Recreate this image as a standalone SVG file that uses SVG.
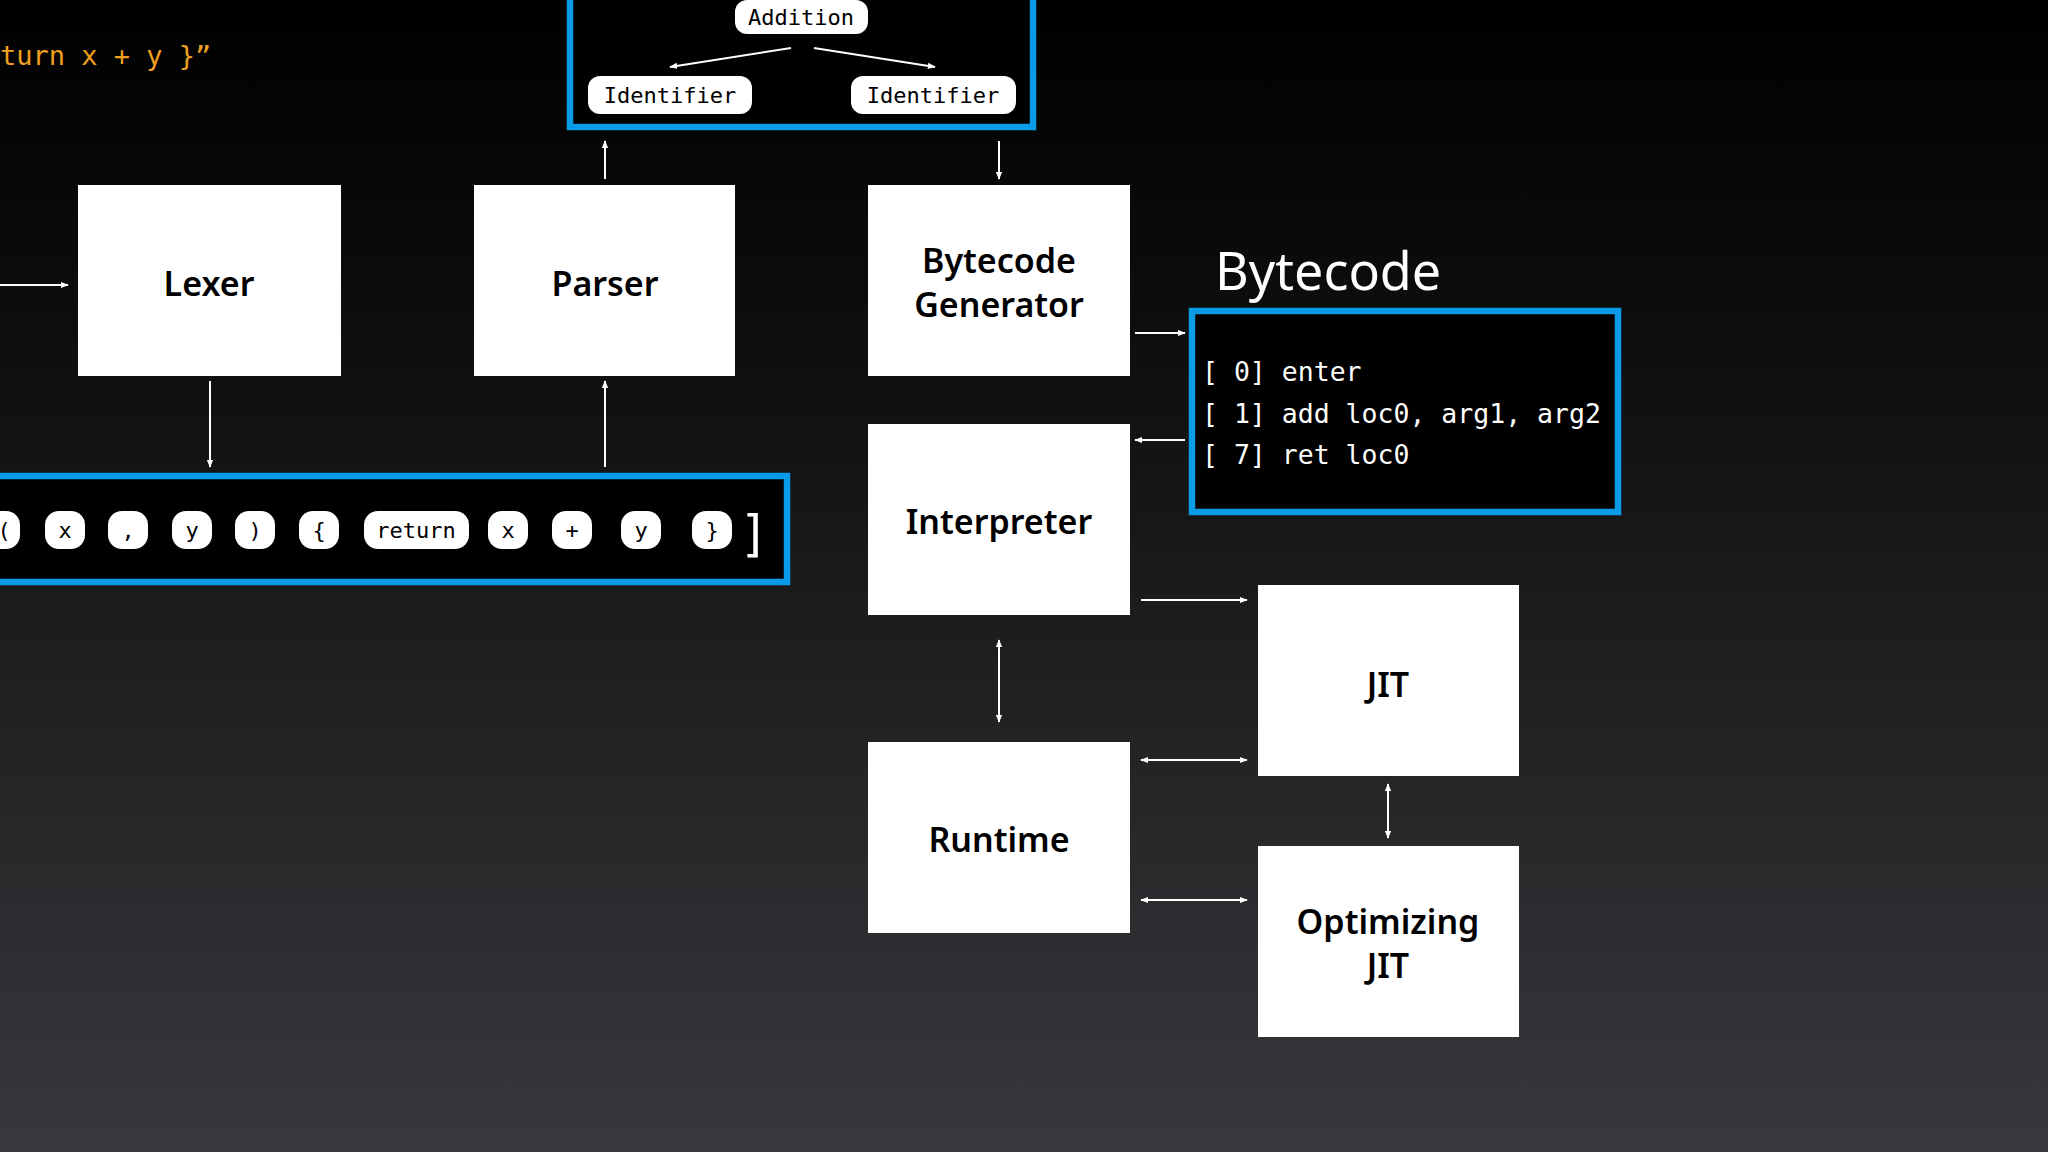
<svg xmlns="http://www.w3.org/2000/svg" width="2048" height="1152" viewBox="0 0 2048 1152">
<defs>
<linearGradient id="bg" x1="0" y1="0" x2="0" y2="1"><stop offset="0" stop-color="#000"/><stop offset="0.35" stop-color="#111"/><stop offset="1" stop-color="#39383d"/></linearGradient>
<marker id="ah" viewBox="0 0 10 10" refX="9" refY="5" markerWidth="8" markerHeight="8" markerUnits="userSpaceOnUse" orient="auto-start-reverse"><path d="M0,1 L10,5 L0,9 Z" fill="#fff"/></marker>
<style>
.box{fill:#fff}
.lbl{font-family:"Noto Sans","Liberation Sans",sans-serif;font-weight:600;font-size:34px;fill:#000;text-anchor:middle}
.frame{fill:#000;stroke:#0a9be8;stroke-width:6.5}
.pill{fill:#fff}
.tok{font-family:"DejaVu Sans Mono",monospace;font-size:22px;fill:#000;text-anchor:middle}
.code{font-family:"DejaVu Sans Mono",monospace;font-size:26.5px;fill:#fff}
.ln{stroke:#fff;stroke-width:2;fill:none}
</style>
</defs>
<rect width="2048" height="1152" fill="url(#bg)"/>
<text x="0" y="65" font-family="DejaVu Sans Mono,monospace" font-size="27" fill="#f0a020">turn x + y }”</text>
<g id="ast">
<rect class="frame" x="570" y="-10" width="463" height="137"/>
<rect class="pill" x="735" y="0" width="133" height="34" rx="12"/><text class="tok" x="801" y="25">Addition</text>
<rect class="pill" x="588" y="76" width="164" height="38" rx="12"/><text class="tok" x="670" y="103">Identifier</text>
<rect class="pill" x="851" y="76" width="165" height="38" rx="12"/><text class="tok" x="933" y="103">Identifier</text>
</g>
<g id="tokens">
<rect class="frame" x="-10" y="476" width="797" height="106"/>
<g class="pill">
<rect x="-20" y="511" width="40" height="38" rx="14"/><rect x="45" y="511" width="40" height="38" rx="14"/><rect x="108" y="511" width="40" height="38" rx="14"/><rect x="172" y="511" width="40" height="38" rx="14"/><rect x="235" y="511" width="40" height="38" rx="14"/><rect x="299" y="511" width="40" height="38" rx="14"/><rect x="364" y="511" width="105" height="38" rx="14"/><rect x="488" y="511" width="40" height="38" rx="14"/><rect x="552" y="511" width="40" height="38" rx="14"/><rect x="621" y="511" width="40" height="38" rx="14"/><rect x="692" y="511" width="40" height="38" rx="14"/>
</g>
<text class="tok" x="4" y="538">(</text><text class="tok" x="65" y="538">x</text><text class="tok" x="128" y="538">,</text><text class="tok" x="192" y="538">y</text><text class="tok" x="255" y="538">)</text><text class="tok" x="319" y="538">{</text><text class="tok" x="416" y="538">return</text><text class="tok" x="508" y="538">x</text><text class="tok" x="572" y="538">+</text><text class="tok" x="641" y="538">y</text><text class="tok" x="712" y="538">}</text>
<text x="754" y="551" font-family="DejaVu Sans Mono,monospace" font-size="50" fill="#fff" text-anchor="middle">]</text>
</g>
<g id="lexer"><rect class="box" x="78" y="185" width="263" height="191"/><text class="lbl" x="209" y="296">Lexer</text></g>
<g id="parser"><rect class="box" x="474" y="185" width="261" height="191"/><text class="lbl" x="605" y="296">Parser</text></g>
<g id="bcgen"><rect class="box" x="868" y="185" width="262" height="191"/><text class="lbl" x="999" y="273">Bytecode</text><text class="lbl" x="999" y="317">Generator</text></g>
<g id="interp"><rect class="box" x="868" y="424" width="262" height="191"/><text class="lbl" x="999" y="534">Interpreter</text></g>
<g id="runtime"><rect class="box" x="868" y="742" width="262" height="191"/><text class="lbl" x="999" y="852">Runtime</text></g>
<g id="jit"><rect class="box" x="1258" y="585" width="261" height="191"/><text class="lbl" x="1388" y="697">JIT</text></g>
<g id="ojit"><rect class="box" x="1258" y="846" width="261" height="191"/><text class="lbl" x="1388" y="934">Optimizing</text><text class="lbl" x="1388" y="978">JIT</text></g>
<g id="bytecode">
<text x="1215" y="290" font-family="Noto Sans,Liberation Sans,sans-serif" font-size="52" fill="#fff">Bytecode</text>
<rect class="frame" x="1192" y="311" width="426" height="201"/>
<text class="code" x="1202" y="381" xml:space="preserve">[ 0] enter</text>
<text class="code" x="1202" y="423" xml:space="preserve">[ 1] add loc0, arg1, arg2</text>
<text class="code" x="1202" y="464" xml:space="preserve">[ 7] ret loc0</text>
</g>
<g id="connectors" class="ln">
<line x1="791" y1="48" x2="670" y2="67" marker-end="url(#ah)"/>
<line x1="814" y1="48" x2="935" y2="67" marker-end="url(#ah)"/>
<line x1="0" y1="285" x2="68" y2="285" marker-end="url(#ah)"/>
<line x1="210" y1="381" x2="210" y2="467" marker-end="url(#ah)"/>
<line x1="605" y1="467" x2="605" y2="381" marker-end="url(#ah)"/>
<line x1="605" y1="179" x2="605" y2="141" marker-end="url(#ah)"/>
<line x1="999" y1="141" x2="999" y2="179" marker-end="url(#ah)"/>
<line x1="1135" y1="333" x2="1185" y2="333" marker-end="url(#ah)"/>
<line x1="1185" y1="440" x2="1135" y2="440" marker-end="url(#ah)"/>
<line x1="1141" y1="600" x2="1247" y2="600" marker-end="url(#ah)"/>
<line x1="999" y1="640" x2="999" y2="722" marker-start="url(#ah)" marker-end="url(#ah)"/>
<line x1="1141" y1="760" x2="1247" y2="760" marker-start="url(#ah)" marker-end="url(#ah)"/>
<line x1="1141" y1="900" x2="1247" y2="900" marker-start="url(#ah)" marker-end="url(#ah)"/>
<line x1="1388" y1="784" x2="1388" y2="838" marker-start="url(#ah)" marker-end="url(#ah)"/>
</g>
</svg>
